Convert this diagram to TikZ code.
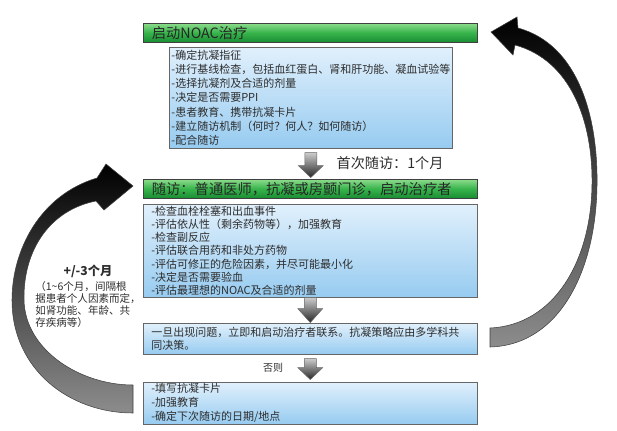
\documentclass[tikz,border=0pt]{standalone}
\usepackage{fontspec}
\setmainfont{Noto Sans CJK SC}
\setsansfont{Noto Sans CJK SC}
\usetikzlibrary{calc}
\usetikzlibrary{positioning}
\definecolor{hdrtop}{RGB}{140,220,140}
\definecolor{hdrbot}{RGB}{25,140,50}
\definecolor{hdrmid}{RGB}{55,180,75}
\definecolor{boxtop}{RGB}{225,240,252}
\definecolor{boxbot}{RGB}{150,203,240}
\definecolor{txt}{RGB}{45,45,45}
\tikzset{every picture/.style={/utils/exec={\sffamily}}}

\begin{document}
\begin{tikzpicture}[x=0.75pt, y=-0.75pt,
    header/.style={draw=black!75, top color=hdrtop, bottom color=hdrbot, middle color=hdrmid, anchor=north west, minimum width=250.5pt, minimum height=14.25pt, text width=237.5pt, inner xsep=6.5pt, inner ysep=0pt, align=left, font=\fontsize{10.7}{12}\selectfont, text=black!85},
    listbox/.style={draw=black!60, top color=boxtop, bottom color=boxbot, anchor=north west, align=left, text=txt, inner ysep=0pt},
    sink/.style={draw=black!60, top color=black!20, bottom color=black!85},
    returnarrow/.style={draw=black!75, line width=0.4pt, top color=black, bottom color=black!45}]
  \useasboundingbox (0,0) rectangle (617,430);

    \node [header] (start) at (143,23) {启动NOAC治疗};
    \node [listbox, minimum width=212.25pt, minimum height=75.75pt, text width=209pt, inner xsep=1.6pt, font=\fontsize{8.25}{10.7}\selectfont] (prep) at (169,47)
      {-确定抗凝指征\\-进行基线检查，包括血红蛋白、肾和肝功能、凝血试验等\\-选择抗凝剂及合适的剂量\\-决定是否需要PPI\\-患者教育、携带抗凝卡片\\-建立随访机制（何时？何人？如何随访）\\-配合随访};

    \node [header] (visit) at (143,179) {随访：普通医师，抗凝或房颤门诊，启动治疗者};
    \node [listbox, minimum width=250.5pt, minimum height=69.75pt, text width=238.5pt, inner xsep=6pt, font=\fontsize{8.25}{9.9}\selectfont] (check) at (143,204)
      {-检查血栓栓塞和出血事件\\-评估依从性（剩余药物等），加强教育\\-检查副反应\\-评估联合用药和非处方药物\\-评估可修正的危险因素，并尽可能最小化\\-决定是否需要验血\\-评估最理想的NOAC及合适的剂量};

    \node [listbox, minimum width=250.5pt, minimum height=23.25pt, text width=238.5pt, inner xsep=6pt, font=\fontsize{8.25}{9.75}\selectfont] (contact) at (143,323)
      {一旦出现问题，立即和启动治疗者联系。抗凝策略应由多学科共\\同决策。};
    \node [listbox, minimum width=250.5pt, minimum height=31.5pt, text width=238.5pt, inner xsep=6pt, font=\fontsize{8.25}{10.5}\selectfont] (card) at (143,382)
      {-填写抗凝卡片\\-加强教育\\-确定下次随访的日期/地点};

    % block arrows between the boxes
    \path [sink] ($(prep.south)+(-6,4)$) -- ++(12,0) -- ++(0,13) -- ++(6.5,0) -- ++(-12.5,12) -- ++(-12.5,-12) -- ++(6.5,0) -- cycle;
    \path [sink] ($(check.south)+(-6,0)$) -- ++(12,0) -- ++(0,11) -- ++(6.5,0) -- ++(-12.5,14) -- ++(-12.5,-14) -- ++(6.5,0) -- cycle;
    \path [sink] ($(contact.south)+(-6,4)$) -- ++(12,0) -- ++(0,9) -- ++(6.5,0) -- ++(-12.5,12) -- ++(-12.5,-12) -- ++(6.5,0) -- cycle;

    \node [anchor=west, font=\fontsize{10.6}{12}\selectfont, text=txt] (first) at (332,163) {首次随访：1个月};
    \node [font=\fontsize{7.5}{9}\selectfont, text=txt] (otherwise) at (273,368) {否则};

    \node [font=\bfseries\fontsize{9.2}{11}\selectfont, text=txt] (interval) at (88,271) {+/-3个月};
    \node [below=-1pt of interval, align=left, inner sep=0pt, font=\fontsize{7.9}{9}\selectfont, text=txt] (note)
      {（1\textasciitilde6个月，间隔根\\据患者个人因素而定，\\如肾功能、年龄、共\\存疾病等）};

    % curved return arrows
    \path [returnarrow] (97,178) -- (106,164) -- (133,186) -- (104,210) -- (96,201)
      .. controls (50,210) and (23,250) .. (24,300)
      .. controls (25,350) and (80,385) .. (133,385) -- (133,413)
      .. controls (70,413) and (12,370) .. (12,300)
      .. controls (12,250) and (40,195) .. (97,178) -- cycle;
    \path [returnarrow] (518,28) -- (517,17) -- (491,32) -- (513,55) -- (515,45)
      .. controls (570,60) and (593,120) .. (592,185)
      .. controls (591,260) and (555,325) .. (490,328) -- (490,347)
      .. controls (560,345) and (596,270) .. (597,185)
      .. controls (598,120) and (580,45) .. (518,28) -- cycle;
\end{tikzpicture}
\end{document}
